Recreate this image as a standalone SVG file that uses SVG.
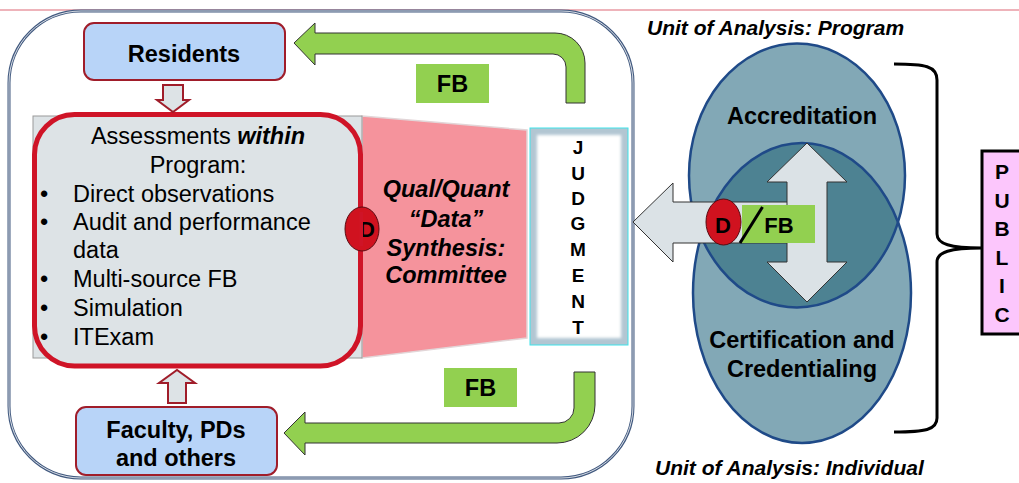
<svg xmlns="http://www.w3.org/2000/svg" width="1019" height="483" viewBox="0 0 1019 483">
<style>
text{font-family:"Liberation Sans",Arial,sans-serif;fill:#000}
.b{font-weight:bold}
.bi{font-weight:bold;font-style:italic}
.m{text-anchor:middle}
.t23{font-size:23.5px}
.blue{fill:#b8d4f8;stroke:#a01d2a;stroke-width:2}
.green{fill:#92d050;stroke:#333;stroke-width:1}
.fbbox{fill:#92d050}
.hollow{fill:#dde3e6;stroke:#a01d2a;stroke-width:2}
.gray{fill:#dbe2e6;stroke:#333;stroke-width:1}
.dot{fill:#d0121f;stroke:#5a0a10;stroke-width:1}
</style>
<defs>
<clipPath id="topEll"><ellipse cx="797" cy="175.5" rx="108" ry="132"/></clipPath>
<filter id="soft" x="-10%" y="-10%" width="120%" height="120%"><feGaussianBlur stdDeviation="1.5"/></filter>
</defs>
<rect width="1019" height="483" fill="#fff"/>
<line x1="0" y1="10" x2="1019" y2="10" stroke="#e89aa3" stroke-width="1.5"/>
<g id="frame">
<rect x="9" y="11" width="624" height="467" rx="72" fill="#fff" stroke="#41597f" stroke-width="3"/>
<rect x="9" y="11" width="624" height="467" rx="72" fill="none" stroke="#fff" stroke-width="0.8"/>
</g>
<g id="synthesis">
<polygon points="362,116 527,130 527,338 362,358" fill="#f5939c" stroke="#e2d6d8" stroke-width="1.5"/>
<text class="bi m t23" x="446" y="197">Qual/Quant</text>
<text class="bi m t23" x="446" y="227">“Data”</text>
<text class="bi m t23" x="446" y="256">Synthesis:</text>
<text class="bi m t23" x="446" y="283">Committee</text>
</g>
<g id="assessments">
<rect x="33" y="116" width="329" height="242" fill="#dde3e6" stroke="#999" stroke-width="1"/>
<rect x="34.5" y="114.5" width="326" height="251.5" rx="40" fill="#dde3e6" stroke="#cf1427" stroke-width="5"/>
<text class="m t23" x="198" y="144">Assessments <tspan class="bi">within</tspan></text>
<text class="m t23" x="198" y="173">Program:</text>
<g class="t23">
<text x="40" y="202">•</text><text x="73" y="202">Direct observations</text>
<text x="40" y="230">•</text><text x="73" y="230">Audit and performance</text>
<text x="73" y="258">data</text>
<text x="40" y="287">•</text><text x="73" y="287">Multi-source FB</text>
<text x="40" y="316">•</text><text x="73" y="316">Simulation</text>
<text x="40" y="345">•</text><text x="73" y="345">ITExam</text>
</g>
</g>
<g id="data-marker-left">
<ellipse cx="362" cy="229" rx="17" ry="22" class="dot"/>
<text class="b m" x="367" y="237" font-size="22">D</text>
<rect x="359.5" y="212" width="3.5" height="34" fill="#cf1427"/>
</g>
<g id="judgment">
<rect x="530" y="128" width="98" height="217" fill="#b2c6d2" stroke="#3fe3ea" stroke-width="1"/>
<rect x="537" y="135" width="84" height="203" fill="#fff" filter="url(#soft)"/>
<g class="b m" font-size="19">
<text x="578" y="153.5">J</text>
<text x="578" y="179.5">U</text>
<text x="578" y="204.5">D</text>
<text x="578" y="229.5">G</text>
<text x="578" y="256">M</text>
<text x="578" y="281.5">E</text>
<text x="578" y="308">N</text>
<text x="578" y="333.5">T</text>
</g>
</g>
<g id="residents">
<rect x="84" y="23" width="201" height="57" rx="10" class="blue"/>
<text class="b m t23" x="184" y="62">Residents</text>
</g>
<g id="faculty">
<rect x="76" y="407" width="201" height="68" rx="10" class="blue"/>
<text class="b m t23" x="176" y="438">Faculty, PDs</text>
<text class="b m t23" x="176" y="466">and others</text>
</g>
<g id="fb-top">
<rect x="416" y="64" width="73" height="39" class="fbbox"/>
<text class="b m t23" x="452.5" y="92">FB</text>
</g>
<g id="fb-bottom">
<rect x="444" y="368" width="73" height="39" class="fbbox"/>
<text class="b m t23" x="480.5" y="396">FB</text>
</g>
<g id="circles">
<ellipse cx="797" cy="175.5" rx="108" ry="132" fill="#82a8b6"/>
<ellipse cx="802" cy="293" rx="109" ry="150" fill="#82a8b6"/>
<ellipse cx="802" cy="293" rx="109" ry="150" fill="#4d8292" clip-path="url(#topEll)"/>
<ellipse cx="797" cy="175.5" rx="108" ry="132" fill="none" stroke="#1f4a88" stroke-width="2.5"/>
<ellipse cx="802" cy="293" rx="109" ry="150" fill="none" stroke="#1f4a88" stroke-width="2.5"/>
<text class="b m t23" x="802" y="124">Accreditation</text>
<text class="b m t23" x="802" y="348">Certification and</text>
<text class="b m t23" x="802" y="377">Credentialing</text>
</g>
<g id="connectors">
<path class="green" d="M294,43 L315,23 L315,33 L555,33 A30,30 0 0 1 585,63 L585,103 L566,103 L566,67 A13,13 0 0 0 553,54 L315,54 L315,65 Z"/>
<path class="green" d="M284,433 L305,412 L305,423 L559,423 A15,15 0 0 0 574,408 L574,372 L595,372 L595,405 A38,38 0 0 1 557,443 L305,443 L305,455 Z"/>
<path class="hollow" d="M163,85 L183,85 L183,100 L189,100 L173,112 L157,100 L163,100 Z"/>
<path class="hollow" d="M168,403 L168,383 L159,383 L177,370 L195,383 L186,383 L186,403 Z"/>
<path class="gray" d="M633,222 L673,183 L673,202 L800,202 L800,243 L673,243 L673,262 Z"/>
<path class="gray" d="M807,143 L847,182 L827,182 L827,262 L847,262 L807,302 L767,262 L787,262 L787,182 L767,182 Z"/>
</g>
<g id="data-fb-right">
<rect x="742" y="205" width="73" height="38" class="fbbox"/>
<ellipse cx="723.5" cy="222" rx="17.5" ry="23" class="dot"/>
<text class="b m" x="723" y="233" font-size="22">D</text>
<line x1="762.5" y1="207" x2="740" y2="243" stroke="#000" stroke-width="3"/>
<text class="b m" x="779" y="233" font-size="22">FB</text>
</g>
<g id="brace">
<path d="M894,64 C925,64 937,66 937,80 L937,234 C937,244 950,248 982,248 C950,248 937,252 937,262 L937,418 C937,430 925,432 894,432" fill="none" stroke="#000" stroke-width="3"/>
</g>
<g id="public">
<rect x="982" y="151" width="42" height="183" fill="#fcc6fc" stroke="#000" stroke-width="3"/>
<g class="b m" font-size="21">
<text x="1002" y="179">P</text>
<text x="1002" y="208">U</text>
<text x="1002" y="236">B</text>
<text x="1002" y="265">L</text>
<text x="1002" y="293">I</text>
<text x="1002" y="322">C</text>
</g>
</g>
<text class="bi" x="647" y="35" font-size="21">Unit of Analysis: Program</text>
<text class="bi" x="655" y="475" font-size="21">Unit of Analysis: Individual</text>
</svg>
